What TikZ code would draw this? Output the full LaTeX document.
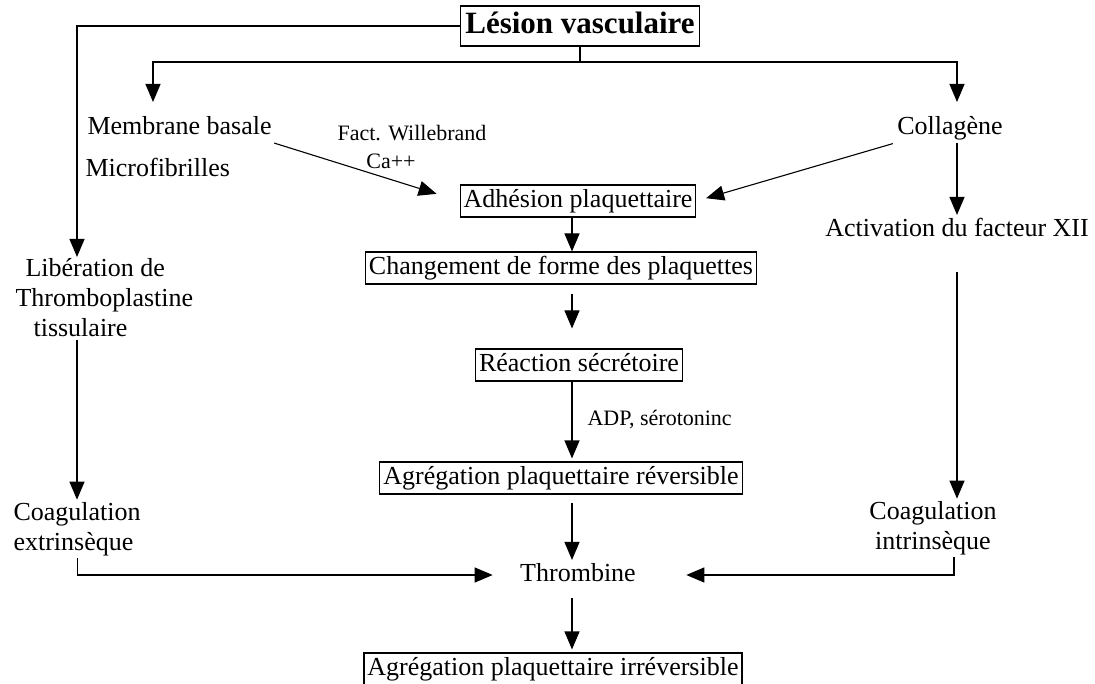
\documentclass[tikz,border=0pt]{standalone}
\usepackage{fontspec}
\setmainfont{Liberation Serif}
\usetikzlibrary{arrows.meta}

\begin{document}
\begin{tikzpicture}[x=1pt, y=-1pt,
		>={Triangle[length=18pt, width=15pt]},
		line width=1.1pt,
		txt/.style = {inner sep=2pt, font=\fontsize{26}{30}\selectfont},
		oneline/.style = {txt, text height=19pt, text depth=6pt},
		box/.style = {oneline, draw, inner xsep=3.5pt, inner ysep=3.5pt},
		small/.style = {inner sep=1pt, font=\fontsize{22}{25}\selectfont}
	]
	\useasboundingbox (0,0) rectangle (1095,684);

	\node [box, line width=1.6pt, inner xsep=5pt, inner ysep=5pt,
		font=\bfseries\fontsize{31}{34}\selectfont,
		text height=23pt, text depth=7pt] (lesion) at (580,26) {Lésion vasculaire};

	\node [oneline, anchor=west] (membrane) at (85,128) {Membrane basale};
	\node [oneline, anchor=west] (microfib) at (83,170) {Microfibrilles};
	\node [oneline] (collagene) at (950,128) {Collagène};
	\node [small] (willebrand) at (412,133) {Fact. Willebrand};
	\node [small] (calcium) at (391,161) {Ca++};
	\node [box] (adhesion) at (578,201) {Adhésion plaquettaire};
	\node [oneline] (activation) at (957,230) {Activation du facteur XII};
	\node [box] (forme) at (561,268) {Changement de forme des plaquettes};
	\node [txt, align=left, anchor=west] (liberation) at (13,298)
	{\hspace*{10pt}Libération de\\Thromboplastine\\\hspace*{18pt}tissulaire};
	\node [box] (secretion) at (579,365) {Réaction sécrétoire};
	\node [small, anchor=west] (adp) at (586,420) {ADP, sérotoninc};
	\node [box] (reversible) at (561,478) {Agrégation plaquettaire réversible};
	\node [txt, align=left, anchor=west] (extrinseque) at (11,529)
	{Coagulation\\extrinsèque};
	\node [txt, align=center] (intrinseque) at (933,528)
	{Coagulation\\intrinsèque};
	\node [oneline] (thrombine) at (578,575) {Thrombine};
	\node [box] (irreversible) at (553,669) {Agrégation plaquettaire irréversible};

	\coordinate (axis) at (572,0);
	\coordinate (branch) at (lesion.south |- 0,62);
	\coordinate (memtip) at (153,102);
	\coordinate (coltip) at (957,102);
	\coordinate (libtip) at (77,257);

	\draw[->] (lesion.west) -| (libtip);
	\draw (lesion.south) -- (branch);
	\draw[->] (branch) -| (memtip);
	\draw[->] (branch) -| (coltip);

	\draw[->, shorten >=24pt] (membrane.south east) -- (adhesion.west);
	\draw[->, shorten <=2pt, shorten >=10pt] (collagene.south west) -- (adhesion.east);
	\draw[->] (activation.north |- collagene.south) -- (activation.north);
	\draw[->, shorten <=27pt] (activation.south) -- (activation.south |- intrinseque.north);
	\draw[->] ([xshift=21pt]intrinseque.south) |- ([xshift=48pt]thrombine.east);
	\draw[->] (extrinseque.south) |- ([xshift=-25pt]thrombine.west);
	\draw[->] (libtip |- liberation.south) -- (libtip |- extrinseque.north);

	% colonne centrale
	\draw[->] (axis |- adhesion.south) -- (axis |- forme.north);
	\draw[->, shorten <=9pt, shorten >=20pt] (axis |- forme.south) -- (axis |- secretion.north);
	\draw[->, shorten >=3pt] (axis |- secretion.south) -- (axis |- reversible.north);
	\draw[->, shorten <=8pt] (axis |- reversible.south) -- (axis |- thrombine.north);
	\draw[->, shorten <=8pt, shorten >=3pt] (axis |- thrombine.south) -- (axis |- irreversible.north);
\end{tikzpicture}
\end{document}
